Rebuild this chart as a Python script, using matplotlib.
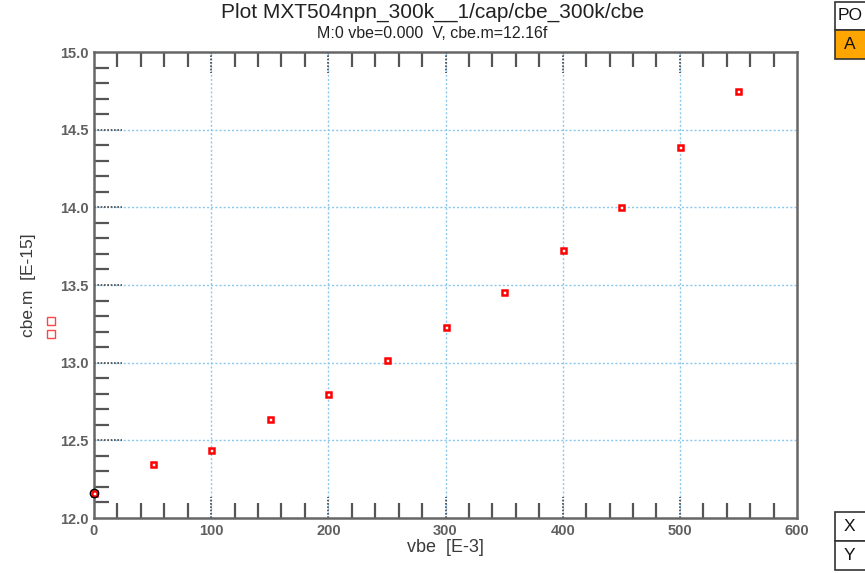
import matplotlib
matplotlib.use("Agg")
import matplotlib.pyplot as plt
from matplotlib.lines import Line2D
from matplotlib.patches import Rectangle
from matplotlib.ticker import MultipleLocator

plt.rcParams['font.family'] = ['Liberation Sans', 'DejaVu Sans']

# measured data (vbe in mV, cbe in fF)
vbe = [0, 50, 100, 150, 200, 250, 300, 350, 400, 450, 500, 550]
cbe = [12.16, 12.35, 12.44, 12.64, 12.80, 13.02, 13.23, 13.455, 13.725, 14.00, 14.39, 14.75]

x_major = [0, 100, 200, 300, 400, 500, 600]
y_major = [12.0, 12.5, 13.0, 13.5, 14.0, 14.5, 15.0]

title = "Plot MXT504npn_300k__1/cap/cbe_300k/cbe"
subtitle = "M:0 vbe=0.000  V, cbe.m=12.16f"

fig = plt.figure(figsize=(8.65, 5.73), dpi=100)
ax = fig.add_axes([94/865, 1 - 518/573, (797-94)/865, (518-52)/573])

grid_col = '#8cc8ec'
for xv in x_major[1:-1]:
    ax.axvline(xv, color=grid_col, lw=1, ls=(0, (1.5, 1.5)), zorder=1)
for yv in y_major[1:-1]:
    ax.axhline(yv, color=grid_col, lw=1, ls=(0, (1.5, 1.5)), zorder=1)

# dark dotted major tick marks at grid positions
for xv in x_major[1:-1]:
    ax.plot([xv, xv], [0, 0.045], transform=ax.get_xaxis_transform(),
            color='#444444', lw=1.2, ls=(0, (1, 1)), zorder=2)
    ax.plot([xv, xv], [1, 1 - 0.045], transform=ax.get_xaxis_transform(),
            color='#444444', lw=1.2, ls=(0, (1, 1)), zorder=2)
for yv in y_major[1:-1]:
    ax.plot([0, 0.04], [yv, yv], transform=ax.get_yaxis_transform(),
            color='#444444', lw=1.2, ls=(0, (1, 1)), zorder=2)

ax.plot(vbe, cbe, ls='none', marker='s', ms=3.6, mfc='white', mec='#ff0000', mew=1.8,
        zorder=4, clip_on=False)
ax.plot(vbe[:1], cbe[:1], ls='none', marker='o', ms=6, mfc='none', mec='black',
        mew=1.0, zorder=5, clip_on=False)

ax.set_xlim(0, 600)
ax.set_ylim(12.0, 15.0)
ax.set_xticks(x_major)
ax.set_yticks(y_major)
ax.set_yticklabels([f"{v:.1f}" for v in y_major])
ax.xaxis.set_minor_locator(MultipleLocator(20))
ax.yaxis.set_minor_locator(MultipleLocator(0.1))

ax.tick_params(which='major', length=0, pad=4, labelsize=10.5, labelcolor='#606060')
ax.tick_params(which='minor', direction='in', length=11, width=1.6, color='#555555',
               top=True, bottom=True, left=True, right=False)
for lbl in ax.get_xticklabels() + ax.get_yticklabels():
    lbl.set_fontweight('bold')

for sp in ax.spines.values():
    sp.set_color('#666666')
    sp.set_linewidth(1.8)

ax.set_xlabel("vbe  [E-3]", fontsize=13, color='#3a3a3a', labelpad=1)
ax.set_ylabel("cbe.m  [E-15]", fontsize=12.5, color='#3a3a3a', labelpad=17)

fig.text(0.5, 1 - 12/573, title, ha='center', va='center', fontsize=15, color='#222222')
fig.text(0.5, 1 - 33/573, subtitle, ha='center', va='center', fontsize=11.5, color='#222222')

# legend squares next to the y label
for yy in (321, 334):
    fig.add_artist(Line2D([51/865], [1 - yy/573], marker='s', ms=6, mfc='white',
                          mec='#ff4444', mew=1, ls='none'))

# side boxes
def box(x0, y0, w, h, text, fc, dx):
    fig.add_artist(Rectangle((x0/865, 1 - (y0+h)/573), w/865, h/573, fc=fc,
                             ec='#333333', lw=1.2, transform=fig.transFigure))
    fig.text((x0+dx)/865, 1 - (y0+h/2)/573, text, ha='left', va='center',
             fontsize=12.5, color='#111111')

box(835, 2, 40, 28, "PO", 'white', 3)
box(835, 30, 40, 29, "A", '#ffa500', 9)
box(835, 512, 40, 29, "X", 'white', 9)
box(835, 541, 40, 29, "Y", 'white', 9)

fig.savefig("out.png", dpi=100)
